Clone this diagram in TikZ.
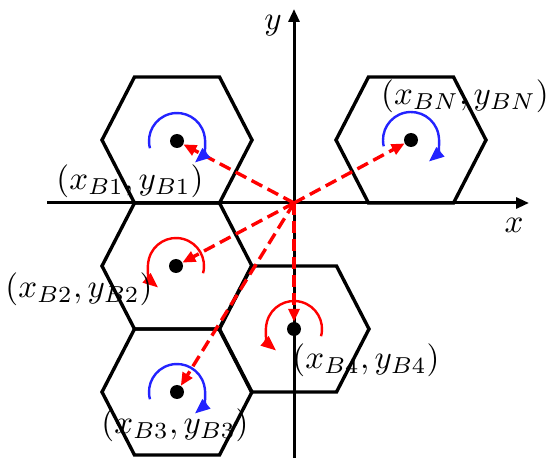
\documentclass[tikz,border=0pt]{standalone}
\usetikzlibrary{arrows.meta}
\definecolor{rotblue}{RGB}{35,35,255}
\definecolor{vecred}{RGB}{255,0,0}
\tikzset{
 hexline/.style={line width=3.4pt, line join=miter},
 axisline/.style={line width=3pt, -{Triangle[length=13pt,width=11pt]}},
 dotnode/.style={circle, fill=black, minimum size=14pt, inner sep=0pt},
 vecarrow/.style={vecred, line width=3.4pt, dash pattern=on 12pt off 6pt, -{Triangle[length=13pt,width=11pt]}},
 cwarc/.style={rotblue, line width=2.4pt, -{Triangle[length=15pt,width=12pt]}},
 ccwarc/.style={vecred, line width=2.4pt, -{Triangle[length=15pt,width=12pt]}},
 lab/.style={inner sep=0pt, scale=3.3},
}
\begin{document}
\begin{tikzpicture}[x=1pt,y=-1pt]
\useasboundingbox (0,0) rectangle (550,468);
% hexagons
\foreach \cx/\cy in {177/140,177/266,177/392,294/329,411/140}{
  \draw[hexline] (\cx-42.5,\cy-63) -- (\cx+42.5,\cy-63) -- (\cx+75,\cy) -- (\cx+42.5,\cy+63) -- (\cx-42.5,\cy+63) -- (\cx-75,\cy) -- cycle;
}
% axes
\coordinate (O) at (294,203);
\coordinate (xs) at (47,203);
\coordinate (xe) at (529,203);
\coordinate (ys) at (294,458);
\coordinate (ye) at (294,9);
\draw[axisline] (xs) -- (xe);
\draw[axisline] (ys) -- (ye);
\node[lab] (xl) at (514,225) {$x$};
\node[lab] (yl) at (273,26) {$y$};
% dots
\node[dotnode] (b1) at (177,141) {};
\node[dotnode] (b2) at (176,266) {};
\node[dotnode] (b3) at (177,392) {};
\node[dotnode] (b4) at (294,329) {};
\node[dotnode] (bn) at (411,140) {};
% position vectors
\draw[vecarrow] (O) -- (b1);
\draw[vecarrow] (O) -- (b2);
\draw[vecarrow] (O) -- (b3);
\draw[vecarrow] (O) -- (b4);
\draw[vecarrow] (O) -- (bn);
% rotations
\draw[cwarc] ([shift={(195:28pt)}]b1.center) arc[start angle=195,end angle=-50,radius=28pt];
\draw[cwarc] ([shift={(195:28pt)}]b3.center) arc[start angle=195,end angle=-50,radius=28pt];
\draw[cwarc] ([shift={(193:28pt)}]bn.center) arc[start angle=193,end angle=-50,radius=28pt];
\draw[ccwarc] ([shift={(-15:28pt)}]b2.center) arc[start angle=-15,end angle=230,radius=28pt];
\draw[ccwarc] ([shift={(-15:28pt)}]b4.center) arc[start angle=-15,end angle=230,radius=28pt];
% labels
\node[lab] (l1) at (130,181) {$(x_{B1},y_{B1})$};
\node[lab] (l2) at (79,289) {$(x_{B2},y_{B2})$};
\node[lab] (l3) at (175,425) {$(x_{B3},y_{B3})$};
\node[lab] (l4) at (366,360) {$(x_{B4},y_{B4})$};
\node[lab] (ln) at (465,96) {$(x_{BN},y_{BN})$};
\end{tikzpicture}
\end{document}
